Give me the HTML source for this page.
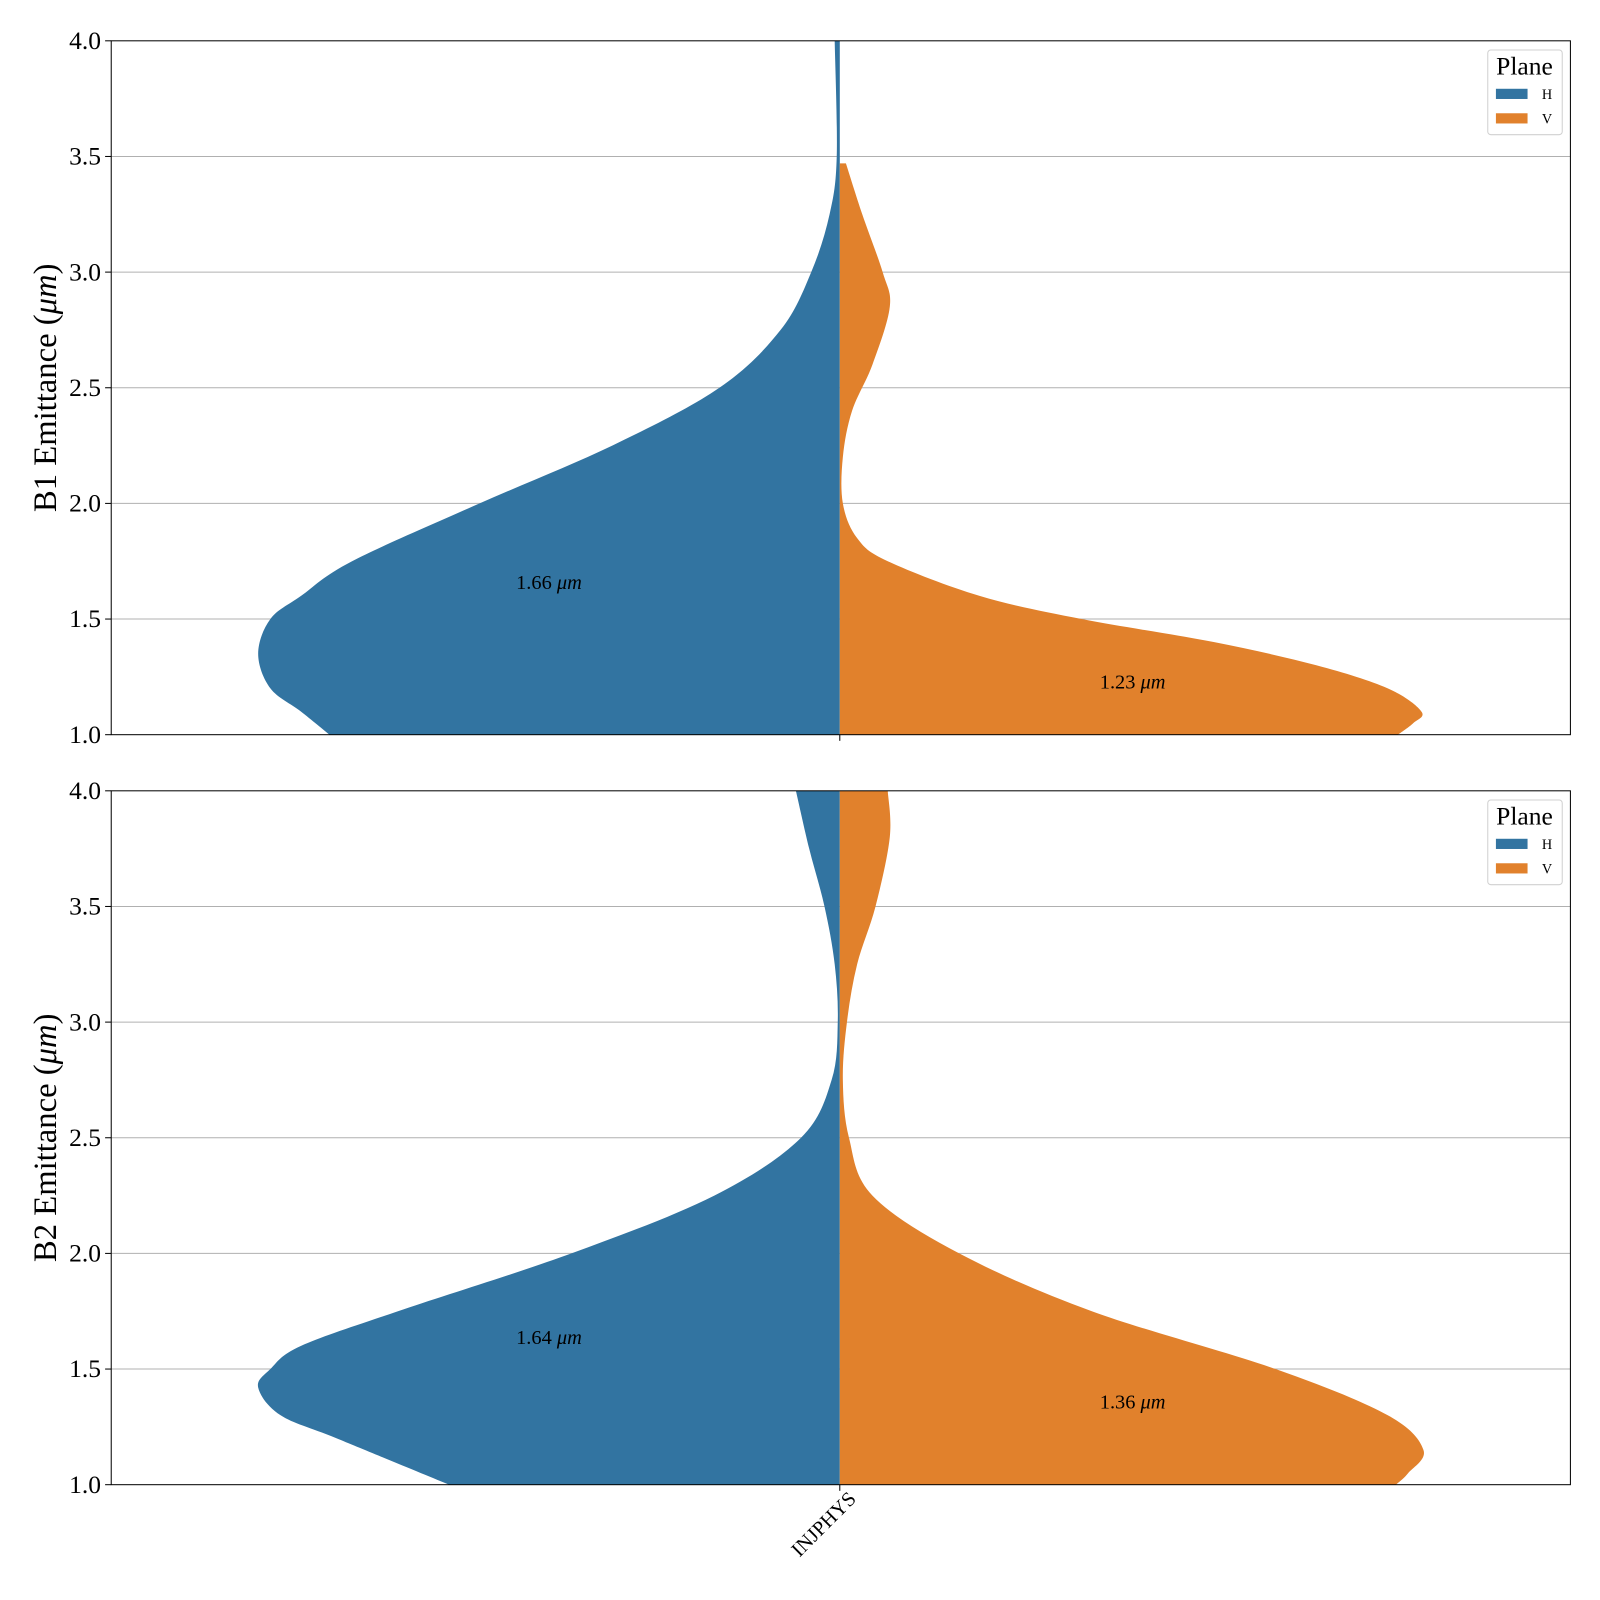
<!DOCTYPE html>
<html><head><meta charset="utf-8"><style>
body{margin:0;background:#fff}
svg{display:block;font-family:"Liberation Serif",serif}
</style></head><body>
<svg id="chart" width="1600" height="1600" viewBox="0 0 1568 1568"></svg>
<script>
// Top panel (B1)
const b1HY=[1.0,1.1,1.2,1.35,1.5,1.6,1.75,2.0,2.25,2.5,2.75,3.0,3.25,3.5,4.0];
const b1HW=[500,528,558,570,558,528,478,353,223,118,58,28,10,3,5];
const b1VY=[1.0,1.05,1.1,1.2,1.3,1.4,1.5,1.6,1.75,1.85,2.0,2.2,2.4,2.6,2.85,3.0,3.25,3.47];
const b1VW=[547,562,570,537,467,367,237,137,47,17,3,3,12,32,49,42,22,6];
// Bottom panel (B2)
const b2HY=[1.0,1.2,1.3,1.42,1.5,1.6,1.75,2.0,2.25,2.5,2.75,3.0,3.25,3.5,3.75,4.0];
const b2HW=[383,493,548,570,558,528,433,263,123,38,8,2,5,15,30,43];
const b2VY=[1.0,1.05,1.15,1.3,1.5,1.75,2.0,2.25,2.5,2.75,3.0,3.25,3.5,3.8,4.0];
const b2VW=[545,557,572,537,427,247,117,32,9,3,7,17,35,49,47];
const yTicks=[1.0,1.5,2.0,2.5,3.0,3.5,4.0];
const medians=[["1.66","1.23",1.66,1.23],["1.64","1.36",1.64,1.36]];
const NS="http://www.w3.org/2000/svg";
const svg=document.getElementById('chart');
function mk(t,a,p){const e=document.createElementNS(NS,t);for(const k in a)e.setAttribute(k,a[k]);(p||svg).appendChild(e);return e;}
function smooth(pts){
 let d='';
 for(let i=0;i<pts.length-1;i++){
  const p0=pts[Math.max(0,i-1)],p1=pts[i],p2=pts[i+1],p3=pts[Math.min(pts.length-1,i+2)];
  const c1=[p1[0]+(p2[0]-p0[0])/6,p1[1]+(p2[1]-p0[1])/6];
  const c2=[p2[0]-(p3[0]-p1[0])/6,p2[1]-(p3[1]-p1[1])/6];
  d+=` C${c1[0]},${c1[1]} ${c2[0]},${c2[1]} ${p2[0]},${p2[1]}`;
 }
 return d;
}
const L=109,R=1539,CX=823;
const panels=[{top:40,label:"B1 Emittance (",H:[b1HY,b1HW],V:[b1VY,b1VW],m:medians[0]},
{top:775,label:"B2 Emittance (",H:[b2HY,b2HW],V:[b2VY,b2VW],m:medians[1]}];
panels.forEach((p,i)=>{
 const y=v=>p.top+680-(v-1)*(680/3);
 const g=mk('g',{});
 
 
 yTicks.forEach(t=>{
  if(t>1&&t<4){const gl=mk('line',{x1:L,x2:R,y1:y(t),y2:y(t),stroke:'#b0b0b0','stroke-width':1},g);
  }
  mk('line',{x1:L-6,x2:L,y1:y(t),y2:y(t),stroke:'#000'},g);
  const tx=mk('text',{x:L-10,y:y(t)+8,'text-anchor':'end','font-size':25},g);tx.textContent=t.toFixed(1);
  
 });
 const hp=p.H[0].map((v,j)=>[CX-p.H[1][j],y(v)]);
 let d='M'+CX+','+hp[0][1]+' L'+hp[0][0]+','+hp[0][1]+smooth(hp)+' L'+CX+','+hp[hp.length-1][1]+' Z';
 const vh=mk('path',{d:d,fill:'#3274a1'},g);
 
 const vp=p.V[0].map((v,j)=>[CX+p.V[1][j],y(v)]);
 d='M'+CX+','+vp[0][1]+' L'+vp[0][0]+','+vp[0][1]+smooth(vp)+' L'+CX+','+vp[vp.length-1][1]+' Z';
 const vv=mk('path',{d:d,fill:'#e1812c'},g);
 
 mk('rect',{x:L,y:p.top,width:R-L,height:680,fill:'none',stroke:'#000','stroke-width':1},g);
 mk('line',{x1:CX,x2:CX,y1:p.top+680,y2:p.top+686,stroke:'#000'},g);
 const a1=mk('text',{x:538,y:y(p.m[2])+7,'text-anchor':'middle','font-size':20},g);
 a1.innerHTML=p.m[0]+' <tspan font-style="italic">μm</tspan>';
 
 const a2=mk('text',{x:1110,y:y(p.m[3])+7,'text-anchor':'middle','font-size':20},g);
 a2.innerHTML=p.m[1]+' <tspan font-style="italic">μm</tspan>';
 
 const yl=mk('text',{x:0,y:0,'text-anchor':'middle','font-size':32,transform:`translate(55,${p.top+340}) rotate(-90)`},g);
 yl.innerHTML=p.label+'<tspan font-style="italic">μm</tspan>)';
 
 const lg=mk('g',{},g);
 
 mk('rect',{x:1458,y:p.top+9,width:73,height:83,rx:3,fill:'#fff',stroke:'#d0d0d0'},lg);
 const lt=mk('text',{x:1494,y:p.top+33,'text-anchor':'middle','font-size':25},lg);lt.textContent='Plane';
 mk('rect',{x:1466,y:p.top+47,width:31,height:10,fill:'#3274a1'},lg);
 mk('rect',{x:1466,y:p.top+71,width:31,height:10,fill:'#e1812c'},lg);
 const l1=mk('text',{x:1511,y:p.top+57,'font-size':14},lg);l1.textContent='H';
 const l2=mk('text',{x:1511,y:p.top+81,'font-size':14},lg);l2.textContent='V';
});
const xl=mk('text',{x:0,y:0,'text-anchor':'end','font-size':20,transform:'translate(840,1470) rotate(-45)'});
xl.textContent='INJPHYS';


</script>
</body></html>
